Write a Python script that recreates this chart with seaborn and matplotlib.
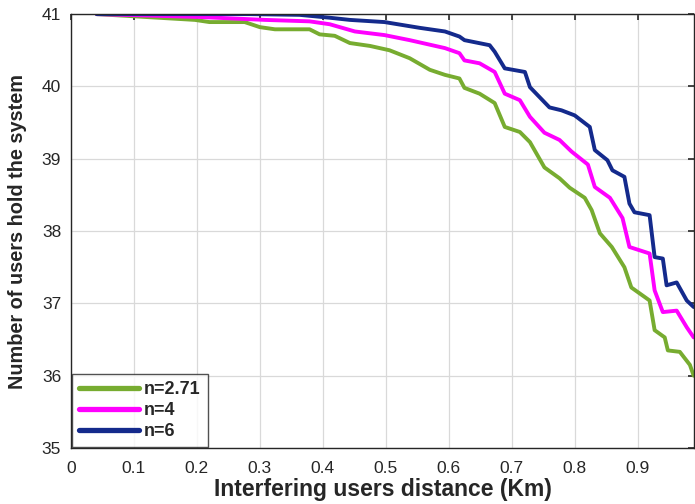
import numpy as np
import pandas as pd
import matplotlib
matplotlib.use("Agg")
import matplotlib.pyplot as plt
import seaborn as sns

# ==========================================
# Data
# ==========================================
x_n271 = [0.041, 0.10, 0.197, 0.22, 0.276, 0.30, 0.324, 0.379, 0.395, 0.419,
          0.443, 0.475, 0.506, 0.538, 0.57, 0.594, 0.617, 0.625, 0.649, 0.673,
          0.689, 0.713, 0.729, 0.752, 0.776, 0.792, 0.816, 0.827, 0.84, 0.859,
          0.879, 0.89, 0.911, 0.919, 0.927, 0.943, 0.948, 0.967, 0.983, 0.989]
y_n271 = [41.0, 40.97, 40.92, 40.89, 40.89, 40.82, 40.79, 40.79, 40.72, 40.70,
          40.60, 40.56, 40.50, 40.39, 40.23, 40.16, 40.11, 39.98, 39.90, 39.77,
          39.44, 39.37, 39.23, 38.88, 38.73, 38.60, 38.46, 38.29, 37.97, 37.78,
          37.50, 37.22, 37.09, 37.04, 36.63, 36.53, 36.35, 36.33, 36.15, 36.00]

x_n4 = [0.041, 0.125, 0.205, 0.308, 0.379, 0.411, 0.451, 0.498, 0.538, 0.594,
        0.617, 0.625, 0.649, 0.673, 0.689, 0.713, 0.729, 0.752, 0.776, 0.795,
        0.821, 0.832, 0.856, 0.876, 0.887, 0.919, 0.927, 0.94, 0.962, 0.978, 0.989]
y_n4 = [41.0, 40.98, 40.96, 40.92, 40.90, 40.86, 40.76, 40.71, 40.64, 40.53,
        40.46, 40.36, 40.32, 40.20, 39.90, 39.81, 39.58, 39.36, 39.26, 39.10,
        38.92, 38.61, 38.46, 38.18, 37.78, 37.69, 37.18, 36.88, 36.90, 36.67, 36.53]

x_n6 = [0.041, 0.284, 0.363, 0.411, 0.443, 0.498, 0.554, 0.594, 0.617, 0.625,
        0.665, 0.673, 0.689, 0.721, 0.729, 0.76, 0.779, 0.80, 0.824, 0.832,
        0.852, 0.86, 0.879, 0.887, 0.895, 0.919, 0.927, 0.94, 0.946, 0.962,
        0.978, 0.989]
y_n6 = [41.0, 41.0, 40.99, 40.95, 40.92, 40.89, 40.81, 40.76, 40.69, 40.64,
        40.57, 40.48, 40.25, 40.20, 39.99, 39.71, 39.67, 39.60, 39.44, 39.12,
        38.98, 38.84, 38.75, 38.38, 38.26, 38.22, 37.64, 37.62, 37.25, 37.29,
        37.04, 36.95]

labels = ["n=2.71", "n=4", "n=6"]
colors = ["#77AC30", "#FF00FF", "#142A8C"]

df = pd.concat([
    pd.DataFrame({"dist": x_n271, "users": y_n271, "n": labels[0]}),
    pd.DataFrame({"dist": x_n4, "users": y_n4, "n": labels[1]}),
    pd.DataFrame({"dist": x_n6, "users": y_n6, "n": labels[2]}),
])

sns.set_style("whitegrid")
plt.rcParams["font.family"] = ["Liberation Sans", "DejaVu Sans"]

fig = plt.figure(figsize=(6.95, 5.04), dpi=100)
ax = fig.add_axes([0.102, 0.111, 0.897, 0.861])

sns.lineplot(data=df, x="dist", y="users", hue="n", palette=colors,
             hue_order=labels, linewidth=2.8, sort=False, estimator=None, ax=ax)

ax.set_xlim(0, 0.99)
ax.set_ylim(35, 41)
ax.set_xticks(np.arange(0, 1.0, 0.1))
ax.set_xticklabels(["0"] + ["%.1f" % v for v in np.arange(0.1, 1.0, 0.1)])
ax.set_yticks(range(35, 42))

ax.grid(True, color="#d9d9d9", linewidth=0.9)
for s in ax.spines.values():
    s.set_visible(True)
    s.set_color("#262626")
    s.set_linewidth(1.0)
ax.tick_params(direction="in", length=4, width=1.2, colors="#262626",
               labelsize=12.5, top=True, right=True, labeltop=False, labelright=False)
ax.tick_params(axis="x", pad=9)
ax.tick_params(axis="y", pad=7)

ax.set_xlabel("Interfering users distance (Km)", fontsize=16.5, fontweight="bold",
              color="#262626", labelpad=2)
ax.set_ylabel("Number of users hold the system", fontsize=14.3, fontweight="bold",
              color="#262626", labelpad=11)

leg = ax.legend(loc="lower left", fontsize=13, frameon=True, fancybox=False,
                handlelength=3.3, borderaxespad=0.05, labelspacing=0.22,
                handletextpad=0.3, borderpad=0.4)
leg.get_frame().set_edgecolor("#262626")
leg.get_frame().set_linewidth(1.0)
for t in leg.get_texts():
    t.set_fontweight("bold")
for h in leg.get_lines():
    h.set_linewidth(3.8)

fig.savefig("out.png", dpi=100)
